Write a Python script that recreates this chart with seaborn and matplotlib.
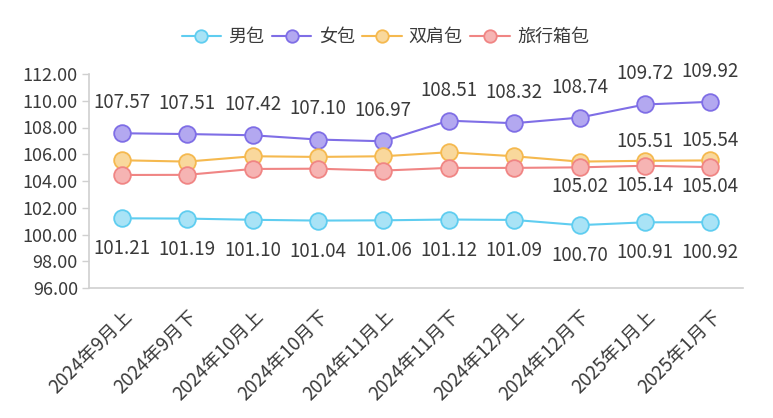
import matplotlib
matplotlib.use("Agg")
import matplotlib.pyplot as plt
import seaborn as sns
import pandas as pd
import numpy as np

categories = ["2024年9月上", "2024年9月下", "2024年10月上", "2024年10月下", "2024年11月上",
              "2024年11月下", "2024年12月上", "2024年12月下", "2025年1月上", "2025年1月下"]
male = [101.21, 101.19, 101.10, 101.04, 101.06, 101.12, 101.09, 100.70, 100.91, 100.92]
female = [107.57, 107.51, 107.42, 107.10, 106.97, 108.51, 108.32, 108.74, 109.72, 109.92]
backpack = [105.55, 105.45, 105.85, 105.80, 105.85, 106.15, 105.85, 105.45, 105.51, 105.54]
luggage = [104.45, 104.46, 104.90, 104.92, 104.78, 104.98, 104.98, 105.02, 105.14, 105.04]
series_names = ["男包", "女包", "双肩包", "旅行箱包"]
y_ticks = [96, 98, 100, 102, 104, 106, 108, 110, 112]

colors = ["#5fcdf0", "#7f6ee6", "#f5b94f", "#f08584"]
fills = ["#a9e3f6", "#b3a8f0", "#f9d89c", "#f6b4b3"]

sns.set_theme(style="white")
plt.rcParams['font.family'] = ['Noto Sans CJK SC', 'DejaVu Sans']

fig = plt.figure(figsize=(7.73, 4.18), dpi=100)
ax = fig.add_axes([89/773, 130/418, (743-89)/773, (288-74)/418])

data = {"男包": male, "女包": female, "双肩包": backpack, "旅行箱包": luggage}
rows = []
for name in series_names:
    for i, v in enumerate(data[name]):
        rows.append({"idx": i, "value": v, "series": name})
df = pd.DataFrame(rows)

for name, c, f in zip(series_names, colors, fills):
    sub = df[df.series == name]
    sns.lineplot(data=sub, x="idx", y="value", ax=ax, color=c, linewidth=1.5,
                 marker="o", markersize=12, markerfacecolor=f, markeredgecolor=c,
                 markeredgewidth=1.3, label=name, zorder=3)

txt_color = "#3a3a3a"
lab_size = 13.5
# value labels
for i, v in enumerate(male):
    ax.annotate(f"{v:.2f}", (i, v), xytext=(0, -22), textcoords="offset points",
                ha="center", va="center", fontsize=lab_size, color=txt_color)
for i, v in enumerate(female):
    ax.annotate(f"{v:.2f}", (i, v), xytext=(0, 22), textcoords="offset points",
                ha="center", va="center", fontsize=lab_size, color=txt_color)
for i in [8, 9]:
    v = backpack[i]
    ax.annotate(f"{v:.2f}", (i, v), xytext=(0, 14), textcoords="offset points",
                ha="center", va="center", fontsize=lab_size, color=txt_color)
for i in [7, 8, 9]:
    v = luggage[i]
    ax.annotate(f"{v:.2f}", (i, v), xytext=(0, -14), textcoords="offset points",
                ha="center", va="center", fontsize=lab_size, color=txt_color)

ax.set_xlim(-0.5, len(categories) - 0.5)
ax.set_ylim(96, 112)
ax.set_yticks(y_ticks)
ax.set_yticklabels([f"{t:.2f}" for t in y_ticks], fontsize=13, color=txt_color)
ax.set_xticks(range(len(categories)))
ax.set_xticklabels(categories, rotation=45, ha="right", rotation_mode="anchor",
                   fontsize=13.5, color=txt_color)
ax.set_xlabel("")
ax.set_ylabel("")

for s in ["top", "right"]:
    ax.spines[s].set_visible(False)
for s in ["left", "bottom"]:
    ax.spines[s].set_color("#d0d0d0")
    ax.spines[s].set_linewidth(1.2)
ax.tick_params(axis="y", which="both", left=True, length=5, width=1, color="#d0d0d0", pad=3)
ax.tick_params(axis="x", which="both", bottom=False, pad=7)
ax.grid(False)

leg = ax.legend(loc="center", bbox_to_anchor=(0.5 - 0.047, 1 + 37/214), ncol=4, frameon=False,
                fontsize=13, handlelength=2.2, handletextpad=0.4, columnspacing=0.4,
                labelcolor=txt_color)
for h in leg.legend_handles:
    h.set_markersize(9)

fig.savefig("out.png", dpi=100)
